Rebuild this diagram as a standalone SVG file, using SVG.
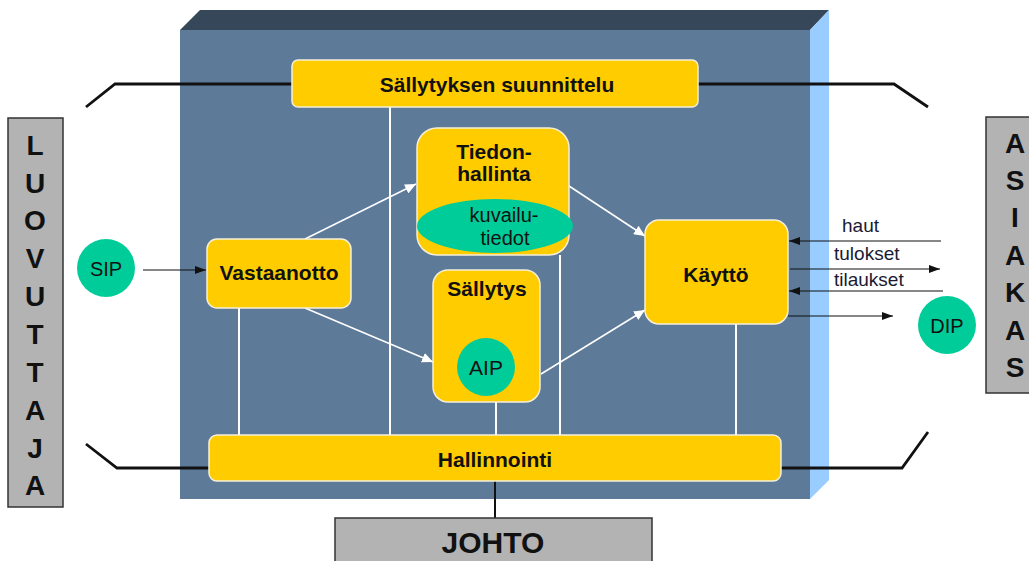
<svg xmlns="http://www.w3.org/2000/svg" width="1029" height="561" viewBox="0 0 1029 561">
<defs>
<style>
.box{fill:#ffcc00;stroke:#f4efd8;stroke-width:1.5}
.circ{fill:#00cc99}
.gray{fill:#b3b3b3;stroke:#333333;stroke-width:1.5}
.bt{font-family:"Liberation Sans",Arial,sans-serif;font-weight:bold;font-size:21px;fill:#111;text-anchor:middle}
.nt{font-family:"Liberation Sans",Arial,sans-serif;font-size:20px;fill:#111;text-anchor:middle}
.lt{font-family:"Liberation Sans",Arial,sans-serif;font-size:19px;fill:#1a1a33}
.side{font-family:"Liberation Sans",Arial,sans-serif;font-weight:bold;font-size:28px;fill:#111;text-anchor:middle}
.wl{stroke:#ffffff;stroke-width:2;fill:none}
.wa{stroke:#ffffff;stroke-width:1.6;fill:none;marker-end:url(#wh)}
.bl{stroke:#111111;stroke-width:2.8;fill:none;stroke-linejoin:miter}
.ba{stroke:#111111;stroke-width:1.2;fill:none;marker-end:url(#bh)}
</style>
<marker id="wh" markerUnits="userSpaceOnUse" markerWidth="12" markerHeight="10" refX="11" refY="5" orient="auto">
<path d="M0,0 L11,5 L0,10 Z" fill="#ffffff"/>
</marker>
<marker id="bh" markerUnits="userSpaceOnUse" markerWidth="12" markerHeight="10" refX="11" refY="5" orient="auto">
<path d="M0,1 L11,5 L0,9 Z" fill="#111111"/>
</marker>
</defs>
<rect width="1029" height="561" fill="#ffffff"/>

<g id="cabinet">
<polygon points="200,10 829,10 810,30 180,30" fill="#36475a"/>
<polygon points="810,30 829,10 829,480 810,499" fill="#99ccff"/>
<rect x="180" y="30" width="630" height="469" fill="#5d7a99"/>
</g>

<g id="connectors">
<line class="wl" x1="390" y1="107" x2="390" y2="435"/>
<line class="wl" x1="239" y1="308" x2="239" y2="435"/>
<line class="wl" x1="560" y1="255" x2="560" y2="435"/>
<line class="wl" x1="496" y1="402" x2="496" y2="435"/>
<line class="wl" x1="736" y1="324" x2="736" y2="435"/>
<line class="wa" x1="305" y1="239" x2="416" y2="184"/>
<line class="wa" x1="305" y1="308" x2="433" y2="362"/>
<line class="wa" x1="569" y1="186" x2="645" y2="236"/>
<line class="wa" x1="541" y1="374" x2="645" y2="310"/>
<polyline class="bl" points="292,84 115,84 86,107"/>
<polyline class="bl" points="698,84 894,84 928,107"/>
<polyline class="bl" points="209,468 117,468 86,444"/>
<polyline class="bl" points="781,468 902,468 928,432"/>
<line class="bl" x1="495" y1="481" x2="495" y2="518" style="stroke-width:2"/>
<line class="ba" x1="143" y1="270" x2="206" y2="270"/>
<line class="ba" x1="941" y1="241" x2="789" y2="241"/>
<line class="ba" x1="790" y1="269" x2="940" y2="269"/>
<line class="ba" x1="943" y1="291" x2="789" y2="291"/>
<line class="ba" x1="788" y1="316" x2="893" y2="316"/>
<text class="lt" x="842" y="232">haut</text>
<text class="lt" x="834" y="260">tulokset</text>
<text class="lt" x="834" y="286">tilaukset</text>
</g>

<g id="sallytyksen-suunnittelu">
<rect class="box" x="292" y="60" width="406" height="47" rx="6"/>
<text class="bt" x="497" y="92">Sällytyksen suunnittelu</text>
</g>

<g id="tiedonhallinta">
<rect class="box" x="417" y="128" width="152" height="127" rx="20"/>
<text class="bt" x="494" y="159">Tiedon-</text>
<text class="bt" x="494" y="181">hallinta</text>
</g>

<g id="kuvailutiedot">
<ellipse class="circ" cx="495" cy="226" rx="78" ry="27"/>
<text class="nt" x="504" y="222">kuvailu-</text>
<text class="nt" x="505" y="245">tiedot</text>
</g>

<g id="vastaanotto">
<rect class="box" x="207" y="239" width="144" height="69" rx="10"/>
<text class="bt" x="279" y="280">Vastaanotto</text>
</g>

<g id="sallytys">
<rect class="box" x="433" y="270" width="107" height="132" rx="15"/>
<text class="bt" x="487" y="296">Sällytys</text>
</g>

<g id="aip">
<circle class="circ" cx="486" cy="367" r="29"/>
<text class="nt" x="486" y="375" style="font-size:21px">AIP</text>
</g>

<g id="kaytto">
<rect class="box" x="645" y="220" width="143" height="104" rx="14"/>
<text class="bt" x="716" y="282">Käyttö</text>
</g>

<g id="hallinnointi">
<rect class="box" x="209" y="435" width="572" height="46" rx="8"/>
<text class="bt" x="495" y="467">Hallinnointi</text>
</g>

<g id="sip">
<circle class="circ" cx="106" cy="268" r="29"/>
<text class="nt" x="106" y="276">SIP</text>
</g>

<g id="dip">
<circle class="circ" cx="947" cy="325" r="29"/>
<text class="nt" x="947" y="333">DIP</text>
</g>

<g id="johto">
<rect class="gray" x="335" y="518" width="317" height="50"/>
<text class="bt" x="493" y="553" style="font-size:30px">JOHTO</text>
</g>

<g id="luovuttaja">
<rect class="gray" x="8" y="118" width="55" height="389"/>
<text class="side" x="35" y="155">L</text>
<text class="side" x="35" y="193">U</text>
<text class="side" x="35" y="230">O</text>
<text class="side" x="35" y="268">V</text>
<text class="side" x="35" y="306">U</text>
<text class="side" x="35" y="344">T</text>
<text class="side" x="35" y="382">T</text>
<text class="side" x="35" y="420">A</text>
<text class="side" x="35" y="458">J</text>
<text class="side" x="35" y="495">A</text>
</g>

<g id="asiakas">
<rect class="gray" x="986" y="117" width="45" height="276"/>
<text class="side" x="1015" y="153">A</text>
<text class="side" x="1015" y="190">S</text>
<text class="side" x="1015" y="227">I</text>
<text class="side" x="1015" y="265">A</text>
<text class="side" x="1015" y="302">K</text>
<text class="side" x="1015" y="340">A</text>
<text class="side" x="1015" y="377">S</text>
</g>
</svg>
